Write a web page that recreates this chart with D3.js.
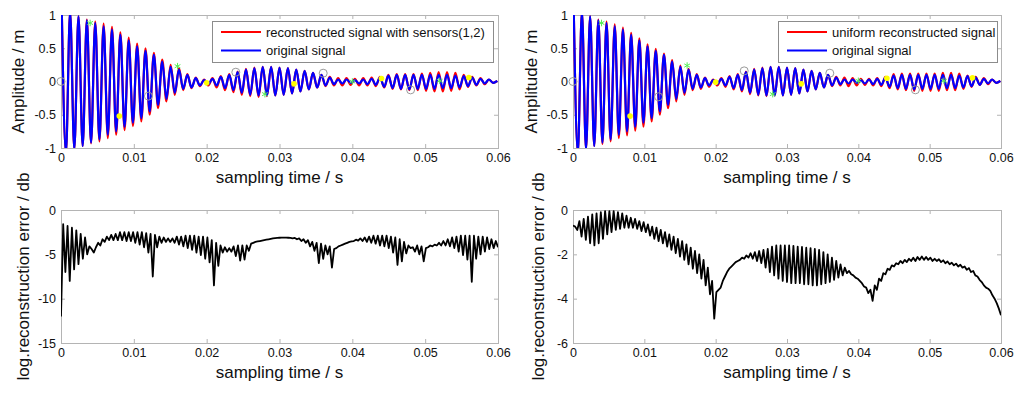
<!DOCTYPE html>
<html>
<head>
<meta charset="utf-8">
<title>reconstruction</title>
<script src="https://d3js.org/d3.v7.min.js"></script>
<style>
  body { margin: 0; background: #fff; }
  svg text { font-family: Arial, "Liberation Sans", sans-serif; fill: #111; }
</style>
</head>
<body>
<div id="vis"></div>
<script>

// axis ticks
const xTicks = [0, 0.01, 0.02, 0.03, 0.04, 0.05, 0.06];
const xTickLabels = ["0", "0.01", "0.02", "0.03", "0.04", "0.05", "0.06"];
const ampTicks = [-1, -0.5, 0, 0.5, 1];
const ampTickLabels = ["-1", "-0.5", "0", "0.5", "1"];
const errTicksL = [-15, -10, -5, 0];
const errTickLabelsL = ["-15", "-10", "-5", "0"];
const errTicksR = [-6, -4, -2, 0];
const errTickLabelsR = ["-6", "-4", "-2", "0"];

// signal extrema (peaks and troughs)
const sigStart = 0.0001, sigStep = 0.000575;
const original = [
  1.1,-1.08,1.05,-1.02,0.98,-0.97,0.92,-0.92,0.88,-0.87,
  0.83,-0.8,0.78,-0.75,0.7,-0.68,0.62,-0.62,0.53,-0.55,
  0.46,-0.45,0.4,-0.35,0.3,-0.26,0.22,-0.17,0.18,-0.11,
  0.1,-0.09,0.05,-0.06,0.02,-0.04,0.04,-0.06,0.07,-0.1,
  0.1,-0.13,0.14,-0.17,0.18,-0.2,0.2,-0.21,0.22,-0.21,
  0.22,-0.21,0.21,-0.2,0.2,-0.18,0.18,-0.15,0.16,-0.12,
  0.13,-0.09,0.1,-0.06,0.06,-0.04,0.03,-0.03,0.03,-0.02,
  0.02,-0.03,0.03,-0.04,0.04,-0.05,0.06,-0.08,0.09,-0.1,
  0.1,-0.11,0.1,-0.12,0.1,-0.11,0.1,-0.11,0.1,-0.11,
  0.1,-0.1,0.1,-0.1,0.09,-0.09,0.08,-0.07,0.06,-0.05,
  0.04,-0.03,0.03,-0.02,0.01
];
const recSensors = [
  1.1,-1.08,1.05,-1.02,0.98,-0.97,0.93,-0.93,0.9,-0.9,
  0.87,-0.85,0.82,-0.8,0.74,-0.73,0.66,-0.67,0.57,-0.6,
  0.5,-0.5,0.43,-0.4,0.33,-0.3,0.25,-0.2,0.2,-0.13,
  0.11,-0.1,0.06,-0.07,0.03,-0.06,0.05,-0.09,0.08,-0.13,
  0.11,-0.16,0.15,-0.2,0.19,-0.22,0.21,-0.23,0.22,-0.22,
  0.22,-0.21,0.21,-0.2,0.2,-0.18,0.18,-0.15,0.16,-0.12,
  0.13,-0.09,0.1,-0.07,0.07,-0.06,0.05,-0.06,0.05,-0.05,
  0.04,-0.06,0.05,-0.06,0.06,-0.07,0.07,-0.09,0.1,-0.11,
  0.11,-0.12,0.11,-0.13,0.11,-0.13,0.12,-0.14,0.13,-0.15,
  0.14,-0.15,0.14,-0.14,0.13,-0.12,0.1,-0.08,0.07,-0.06,
  0.05,-0.04,0.03,-0.02,0.01
];
const recUniform = [
  1.1,-1.08,1.05,-1.02,0.98,-0.97,0.93,-0.94,0.9,-0.9,
  0.86,-0.85,0.81,-0.81,0.73,-0.74,0.65,-0.68,0.56,-0.6,
  0.49,-0.5,0.42,-0.4,0.32,-0.3,0.24,-0.2,0.19,-0.13,
  0.11,-0.11,0.06,-0.08,0.03,-0.06,0.05,-0.08,0.08,-0.12,
  0.11,-0.15,0.15,-0.19,0.19,-0.21,0.21,-0.22,0.22,-0.21,
  0.22,-0.21,0.21,-0.2,0.2,-0.18,0.18,-0.15,0.16,-0.12,
  0.13,-0.09,0.1,-0.07,0.07,-0.06,0.06,-0.07,0.05,-0.06,
  0.04,-0.05,0.04,-0.06,0.05,-0.07,0.07,-0.1,0.11,-0.12,
  0.12,-0.13,0.12,-0.14,0.12,-0.14,0.12,-0.14,0.12,-0.14,
  0.13,-0.13,0.13,-0.13,0.12,-0.11,0.09,-0.08,0.07,-0.05,
  0.05,-0.04,0.03,-0.02,0.01
];

// log reconstruction error, sampled every errStep
const errStep = 0.0003;
const errSensors = [
  -12,-1.6,-7.0,-1.8,-8.0,-2.0,-6.7,-2.3,-6.1,-2.7,
  -5.5,-3.1,-5.0,-4.1,-4.4,-4.8,-4.2,-3.7,-4.0,-3.3,
  -3.6,-3.0,-3.4,-2.8,-3.4,-2.7,-3.4,-2.5,-3.4,-2.5,
  -3.5,-2.5,-3.5,-2.5,-3.7,-2.5,-3.9,-2.5,-4.2,-2.6,
  -4.8,-2.7,-7.5,-2.8,-4.2,-3.0,-3.7,-3.1,-3.6,-3.2,
  -3.6,-3.2,-3.7,-3.0,-3.9,-3.0,-4.1,-2.9,-4.3,-2.9,
  -4.5,-2.9,-4.8,-3.0,-5.1,-3.0,-5.5,-3.1,-5.9,-3.4,
  -8.5,-3.7,-6.3,-4.0,-4.8,-4.2,-4.7,-4.3,-4.7,-4.1,
  -5.2,-4.0,-5.7,-4.0,-5.6,-4.0,-4.6,-3.8,-3.7,-3.6,
  -3.55,-3.5,-3.45,-3.4,-3.35,-3.3,-3.25,-3.2,-3.17,-3.15,
  -3.13,-3.12,-3.12,-3.12,-3.13,-3.15,-3.2,-3.15,-3.3,-3.2,
  -3.5,-3.3,-3.7,-3.4,-4.1,-3.6,-4.6,-3.7,-6.0,-3.8,
  -5.5,-4.0,-5.0,-4.1,-6.5,-4.4,-4.3,-4.1,-4.0,-3.9,
  -3.8,-3.7,-3.6,-3.55,-3.5,-3.35,-3.45,-3.2,-3.5,-3.1,
  -3.6,-3.0,-3.7,-2.9,-3.8,-2.9,-4.0,-2.9,-4.1,-2.9,
  -4.3,-3.0,-4.8,-3.1,-6.2,-3.3,-5.8,-3.6,-4.9,-4.0,
  -4.3,-4.2,-4.7,-4.0,-5.0,-4.1,-5.8,-4.3,-4.2,-4.0,
  -4.1,-3.9,-4.0,-3.7,-4.0,-3.5,-4.0,-3.3,-4.1,-3.1,
  -4.3,-3.0,-4.7,-2.9,-5.1,-2.9,-5.6,-2.9,-8.1,-2.9,
  -5.5,-3.0,-5.0,-3.0,-4.7,-3.1,-4.4,-3.3,-4.3,-3.5,
  -4.2
];
const errUniform = [
  -0.7,-0.75,-0.9,-0.5,-1.2,-0.4,-1.35,-0.3,-1.5,-0.2,
  -1.6,-0.15,-1.5,-0.1,-1.3,-0.05,-1.1,-0.05,-1.0,-0.05,
  -0.9,-0.1,-0.85,-0.15,-0.8,-0.25,-0.8,-0.35,-0.8,-0.4,
  -0.85,-0.5,-0.95,-0.55,-1.0,-0.65,-1.15,-0.75,-1.3,-0.8,
  -1.4,-0.9,-1.5,-1.0,-1.65,-1.1,-1.8,-1.2,-1.95,-1.3,
  -2.1,-1.4,-2.25,-1.55,-2.45,-1.7,-2.65,-1.85,-2.85,-2.0,
  -3.1,-2.25,-3.4,-2.6,-3.8,-3.2,-4.9,-3.7,-3.6,-3.5,
  -3.2,-3.0,-2.8,-2.65,-2.55,-2.45,-2.35,-2.3,-2.25,-2.15,
  -2.2,-2.05,-2.15,-1.95,-2.2,-1.9,-2.3,-1.85,-2.4,-1.8,
  -2.6,-1.75,-2.8,-1.65,-2.95,-1.6,-3.1,-1.6,-3.2,-1.6,
  -3.25,-1.6,-3.3,-1.62,-3.3,-1.65,-3.3,-1.67,-3.35,-1.7,
  -3.35,-1.72,-3.4,-1.75,-3.4,-1.8,-3.35,-1.9,-3.3,-2.0,
  -3.25,-2.15,-3.15,-2.3,-3.05,-2.45,-2.95,-2.6,-2.85,-2.75,
  -2.9,-2.95,-3.05,-3.1,-3.2,-3.3,-3.45,-3.5,-3.75,-3.6,
  -4.1,-3.4,-3.6,-3.1,-3.2,-2.85,-2.9,-2.65,-2.7,-2.5,
  -2.55,-2.4,-2.45,-2.3,-2.4,-2.25,-2.35,-2.2,-2.3,-2.15,
  -2.3,-2.12,-2.25,-2.1,-2.25,-2.12,-2.25,-2.15,-2.3,-2.2,
  -2.3,-2.22,-2.35,-2.27,-2.4,-2.32,-2.45,-2.38,-2.5,-2.42,
  -2.55,-2.47,-2.6,-2.55,-2.7,-2.62,-2.8,-2.75,-2.95,-3.0,
  -3.15,-3.25,-3.4,-3.5,-3.55,-3.65,-3.85,-4.0,-4.2,-4.45,
  -4.75
];

// sample points marked on the signals
const sampleTimes = [0, 0.004, 0.008, 0.012, 0.016, 0.02, 0.024, 0.028, 0.032, 0.036, 0.04, 0.044, 0.048, 0.052, 0.056];
const sampleKinds = ["circle","star","dot","circle","star","dot","circle","star","dot","circle","star","dot","circle","star","dot"];
const samplesL = [0, 0.88, -0.52, -0.22, 0.23, -0.02, 0.14, -0.19, -0.035, 0.125, 0.0, 0.045, -0.126, 0.01, 0.06];
const samplesR = [0, 0.88, -0.52, -0.23, 0.24, -0.01, 0.16, -0.19, -0.035, 0.125, 0.01, 0.05, -0.125, 0.01, 0.055];

const legendL = ["reconstructed signal with sensors(1,2)", "original signal"];
const legendR = ["uniform reconstructed signal", "original signal"];

const W = 1024, H = 397;
const axisGray = "#b4b4b4";

const svg = d3.select("#vis").append("svg")
  .attr("width", W).attr("height", H)
  .attr("viewBox", [0, 0, W, H]);

let clipN = 0;

// one axes box, matlab style: light box, ticks inside on all four sides
function panel(left, top, right, bottom, yDomain, yTicks, yTickLabels, yLabel, yLabelX, xLabelY) {
  const x = d3.scaleLinear().domain([0, 0.06]).range([left, right]);
  const y = d3.scaleLinear().domain(yDomain).range([bottom, top]);
  const g = svg.append("g");

  const id = "clip" + (clipN++);
  svg.append("clipPath").attr("id", id)
    .append("rect").attr("x", left).attr("y", top)
    .attr("width", right - left).attr("height", bottom - top);

  const axes = [
    d3.axisBottom(x).tickValues(xTicks).tickFormat((d, i) => xTickLabels[i]).tickSize(-4).tickPadding(5),
    d3.axisTop(x).tickValues(xTicks).tickFormat("").tickSize(-4),
    d3.axisLeft(y).tickValues(yTicks).tickFormat((d, i) => yTickLabels[i]).tickSize(-4).tickPadding(5),
    d3.axisRight(y).tickValues(yTicks).tickFormat("").tickSize(-4)
  ];
  const pos = [[0, bottom], [0, top], [left, 0], [right, 0]];
  axes.forEach((a, i) => {
    const ag = g.append("g").attr("transform", `translate(${pos[i][0]},${pos[i][1]})`).call(a);
    ag.select(".domain").remove();
    ag.selectAll("line").attr("stroke", axisGray);
    ag.selectAll("text").attr("font-size", 12.5).attr("fill", "#111");
  });

  g.append("rect")
    .attr("x", left + 0.5).attr("y", top + 0.5)
    .attr("width", right - left).attr("height", bottom - top)
    .attr("fill", "none").attr("stroke", axisGray);

  g.append("text")
    .attr("x", (left + right) / 2).attr("y", xLabelY)
    .attr("text-anchor", "middle").attr("font-size", 17)
    .text("sampling time / s");

  g.append("text")
    .attr("transform", `translate(${yLabelX},${(top + bottom) / 2}) rotate(-90)`)
    .attr("text-anchor", "middle").attr("font-size", 17)
    .text(yLabel);

  const plot = svg.append("g").attr("clip-path", `url(#${id})`);
  return { x, y, plot };
}

function drawSignals(p, rec, samples, legendText, lg) {
  const line = d3.line()
    .x((d, i) => p.x(sigStart + i * sigStep))
    .y(d => p.y(d))
    .curve(d3.curveMonotoneX);

  p.plot.append("path").datum(rec)
    .attr("d", line).attr("fill", "none")
    .attr("stroke", "#ff0000").attr("stroke-width", 2.2);
  p.plot.append("path").datum(original)
    .attr("d", line).attr("fill", "none")
    .attr("stroke", "#0000ff").attr("stroke-width", 2.2);

  // sample markers
  const pts = sampleTimes.map((t, i) => ({ t: t, v: samples[i], k: sampleKinds[i] }));
  svg.selectAll(null).data(pts.filter(d => d.k === "circle")).join("circle")
    .attr("cx", d => p.x(d.t)).attr("cy", d => p.y(d.v)).attr("r", 4)
    .attr("fill", "none").attr("stroke", "#9a9a9a").attr("stroke-width", 1);
  svg.selectAll(null).data(pts.filter(d => d.k === "dot")).join("circle")
    .attr("cx", d => p.x(d.t)).attr("cy", d => p.y(d.v)).attr("r", 2.8)
    .attr("fill", "#ffff00");
  svg.selectAll(null).data(pts.filter(d => d.k === "star")).join("path")
    .attr("transform", d => `translate(${p.x(d.t)},${p.y(d.v)})`)
    .attr("d", d3.symbol(d3.symbolAsterisk, 30))
    .attr("fill", "none").attr("stroke", "#55ee55").attr("stroke-width", 1);

  // legend
  const lgG = svg.append("g");
  lgG.append("rect")
    .attr("x", lg.x + 0.5).attr("y", lg.y + 0.5).attr("width", lg.w).attr("height", 41)
    .attr("fill", "#fff").attr("stroke", "#8c8c8c");
  [["#ff0000", legendText[0]], ["#0000ff", legendText[1]]].forEach((e, i) => {
    const yy = lg.y + 11 + i * 18.5;
    lgG.append("line")
      .attr("x1", lg.x + 9).attr("x2", lg.x + 49).attr("y1", yy).attr("y2", yy)
      .attr("stroke", e[0]).attr("stroke-width", 2);
    lgG.append("text")
      .attr("x", lg.x + 54).attr("y", yy + 4.5)
      .attr("font-size", 13).text(e[1]);
  });
}

function drawError(p, err) {
  const line = d3.line()
    .x((d, i) => p.x(i * errStep))
    .y(d => p.y(d));
  p.plot.append("path").datum(err)
    .attr("d", line).attr("fill", "none")
    .attr("stroke", "#000").attr("stroke-width", 1.8)
    .attr("stroke-linejoin", "round");
}

const pTL = panel(61, 15, 498, 148, [-1, 1], ampTicks, ampTickLabels, "Amplitude / m", 24, 183);
const pTR = panel(573, 15, 1001, 148, [-1, 1], ampTicks, ampTickLabels, "Amplitude / m", 537, 183);
const pBL = panel(61, 210, 498, 343, [-15, 0], errTicksL, errTickLabelsL, "log.reconstruction error / db", 29, 378);
const pBR = panel(573, 210, 1001, 343, [-6, 0], errTicksR, errTickLabelsR, "log.reconstruction error / db", 544, 378);

drawSignals(pTL, recSensors, samplesL, legendL, { x: 212, y: 21, w: 281 });
drawSignals(pTR, recUniform, samplesR, legendR, { x: 778, y: 21, w: 219 });
drawError(pBL, errSensors);
drawError(pBR, errUniform);

</script>
</body>
</html>
